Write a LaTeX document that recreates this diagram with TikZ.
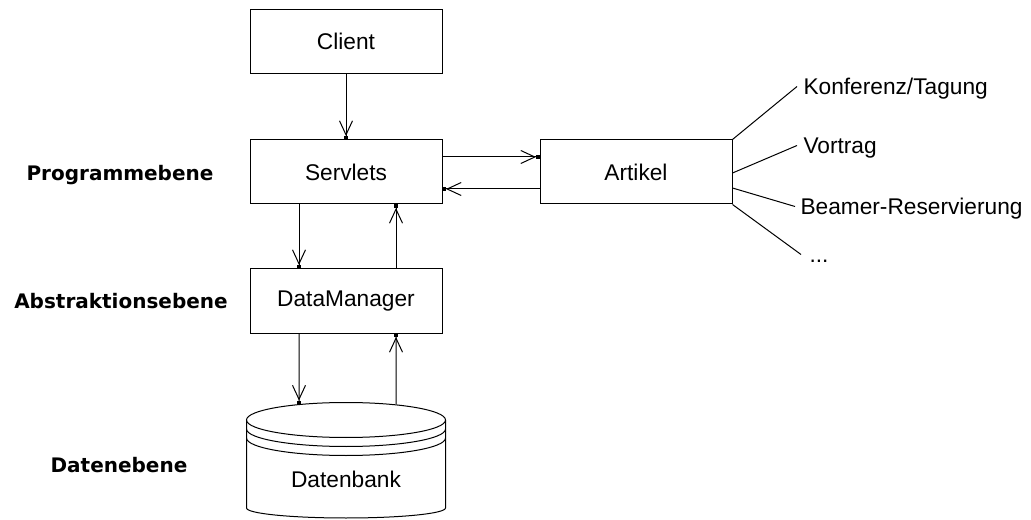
\documentclass[tikz,border=0pt]{standalone}
\usepackage{fontspec}
\setmainfont{Liberation Sans}
\newfontfamily\labfont{DejaVu Sans}
\usetikzlibrary{arrows.meta}
\begin{document}
\begin{tikzpicture}[x=1bp,y=-1bp,line width=1bp,
  box/.style={draw,minimum width=192bp,minimum height=64bp,inner sep=0pt,
    font=\fontsize{22.7bp}{26bp}\selectfont},
  layer/.style={anchor=base,inner sep=0pt,font=\labfont\bfseries\fontsize{20bp}{24bp}\selectfont},
  sub/.style={anchor=base west,inner sep=0pt,text height=17bp,text depth=0pt,
    font=\fontsize{22.7bp}{26bp}\selectfont},
  arr/.style={-{Straight Barb[length=14bp,width=13bp]Square[length=3.5bp,width=3.5bp]}}]
\useasboundingbox (0,0) rectangle (1031,520);
% boxes
\node[box] (client) at (346,41.5) {Client};
\node[box] (servlets) at (346,172) {Servlets};
\node[box] (artikel) at (636,172) {Artikel};
\node[box] (dm) at (346,301) {DataManager};
% database cylinder
\draw (346,420) ellipse [x radius=99.5bp, y radius=17.5bp];
\draw (246.5,429) arc [start angle=180, end angle=360, x radius=99.5bp, y radius=17.5bp];
\draw (246.5,438) arc [start angle=180, end angle=360, x radius=99.5bp, y radius=17.5bp];
\draw (246.5,420) -- (246.5,508) arc [start angle=180, end angle=360, x radius=99.5bp, y radius=10bp] -- (445.5,420);
\node[anchor=base,inner sep=0pt,font=\fontsize{22.7bp}{26bp}\selectfont] (db) at (346,487) {Datenbank};
\coordinate (dbin) at (299,404);
\coordinate (dbout) at (396,404);
% layer labels
\node[layer] (l1) at (120,181) {Programmebene};
\node[layer] (l2) at (121,309) {Abstraktionsebene};
\node[layer] (l3) at (119,472) {Datenebene};
% sub labels
\node[sub] (k1) at (803,95) {Konferenz/Tagung};
\node[sub] (k2) at (803,154) {Vortrag};
\node[sub] (k3) at (800,215) {Beamer-Reservierung};
\node[sub] (k4) at (809,263) {...};
\draw (artikel.north east) -- ([xshift=-6bp]k1.west);
\draw ([yshift=-1bp]artikel.east) -- ([xshift=-6bp]k2.west);
\draw ([yshift=-16bp]artikel.east) -- ([xshift=-5bp]k3.west);
\draw (artikel.south east) -- ([xshift=-8bp]k4.west);
% arrows
\draw[arr] (client.south) -- (servlets.north);
\draw[arr] ([xshift=-47bp]servlets.south) -- ([xshift=-47bp]dm.north);
\draw[arr] ([xshift=50bp]dm.north) -- ([xshift=50bp]servlets.south);
\draw[arr] ([yshift=15bp]servlets.east) -- ([yshift=15bp]artikel.west);
\draw[arr] ([yshift=-17bp]artikel.west) -- ([yshift=-17bp]servlets.east);
\draw[arr] ([xshift=-47bp]dm.south) -- (dbin);
\draw[arr] (dbout) -- ([xshift=50bp]dm.south);
\end{tikzpicture}
\end{document}
